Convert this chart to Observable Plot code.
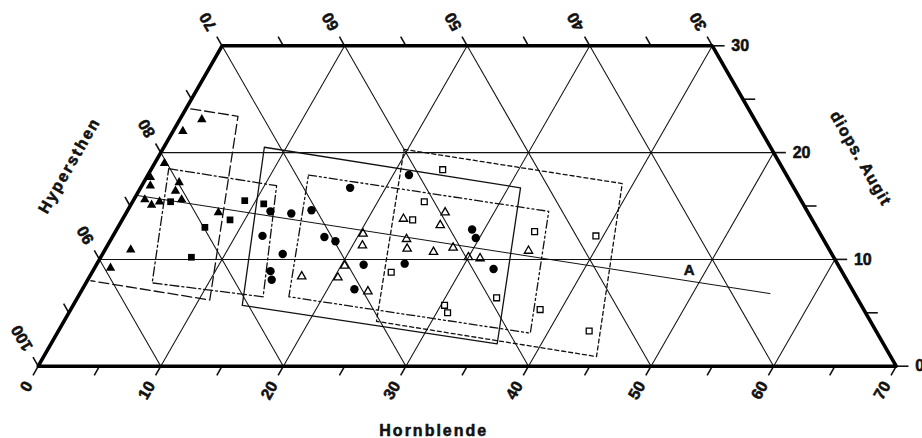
<!DOCTYPE html>
<html><head><meta charset="utf-8">
<script src="https://cdn.jsdelivr.net/npm/d3@7"></script>
<script src="https://cdn.jsdelivr.net/npm/@observablehq/plot@0.6"></script>
<style>html,body{margin:0;padding:0;background:#fff;} #chart svg{display:block}</style>
</head><body><div id="chart"></div>
<script>
// ---- axis ticks (ternary: Hornblende, Hypersthen, diops. Augit, in %) ----
const hornblendeTicks = [0,10,20,30,40,50,60,70];
const hornblendeMinor = [5,15,25,35,45,55,65];
const hypersthenTicks = [100,90,80,70,60,50,40,30];
const hypersthenMinor = [95,85,75,65,55,45,35];
const augitTicks = [0,10,20,30];
const augitMinor = [5,15,25];
const hyMin = 30, aMax = 30;

// ---- data points: [Hornblende, Augit] ----
const filledTriangles = [[1.8,23.1],[0.8,22.0],[0.8,19.0],[0.3,17.7],[0.7,16.9],[2.9,17.2],[3.0,16.4],[0.9,15.6],[1.7,15.1],[2.2,15.4],[3.9,15.6],[7.5,14.4],[2.1,10.9],[1.3,9.2]];
const filledSquares = [[3.1,15.4],[9.1,15.5],[10.8,15.2],[8.8,13.7],[7.1,13.0],[7.4,10.2]];
const filledCircles = [[11.7,14.5],[13.5,14.3],[15.0,14.6],[17.1,16.7],[12.2,12.2],[14.7,10.5],[17.3,12.1],[18.4,11.7],[14.5,8.9],[15.0,8.1],[21.8,9.5],[22.2,7.2],[21.3,17.9],[25.1,9.6],[29.0,12.8],[29.7,12.0],[32.6,9.1]];
const openTriangles = [[20.3,12.4],[20.8,11.3],[20.3,9.4],[17.3,8.4],[20.3,8.3],[23.4,7.0],[22.9,13.8],[24.1,11.9],[24.6,11.0],[26.0,14.4],[26.2,13.2],[26.9,10.7],[28.3,11.1],[30.0,10.2],[31.0,10.1],[34.6,10.8]];
const openSquares = [[23.8,18.4],[23.8,15.4],[23.7,13.7],[24.4,8.8],[34.2,12.6],[39.4,12.2],[34.2,6.4],[30.3,5.7],[30.9,5.0],[38.3,5.3],[43.3,3.3]];

// ---- field outlines: [Hornblende, Augit] corners ----
const dashedField = [[0.4,24.1],[4.6,23.4],[10.9,6.2],[0.3,8.0]];
const dashDotField = [[1.4,18.5],[11.0,16.9],[15.1,6.5],[5.4,7.8],[1.4,18.5]];
const solidField = [[8.2,20.5],[31.0,16.7],[36.4,2.1],[13.8,5.7],[8.2,20.5]];
const dashDotDotField = [[13.1,17.9],[34.4,14.5],[38.6,3.1],[17.2,6.5],[13.1,17.9]];
const shortDashField = [[19.7,20.3],[39.1,17.1],[45.1,0.9],[25.5,4.2],[19.7,20.3]];
const trendLineA = [[0,16.0],[56.3,6.8]];
const trendLabel = [{text:"A", h:48.6, a:9.0}];

// ---- geometry helpers ----
const tx = (h,a) => h + a/2;
const hMax = 100 - hyMin;
const outline = [[0,0],[hMax,0],[hMax-aMax,aMax],[0,aMax],[0,0],[hMax,0]];

const grid = [];
augitTicks.filter(a => a>0 && a<aMax).forEach(a => grid.push({h1:0,a1:a,h2:hMax-a,a2:a}));
hornblendeTicks.filter(h => h>0 && h<hMax).forEach(h => grid.push({h1:h,a1:0,h2:h,a2:Math.min(aMax,hMax-h)}));
hypersthenTicks.filter(hy => hy>hyMin && hy<100).forEach(hy => {
  const s = 100-hy;
  if (s <= aMax) grid.push({h1:s,a1:0,h2:0,a2:s});
  else grid.push({h1:s,a1:0,h2:s-aMax,a2:aMax});
});
const hyBase = hy => hy >= 100-aMax ? [0,100-hy] : [hMax-hy, aMax];

const L = 0.85;
const ticks = [];
[...hornblendeTicks, ...hornblendeMinor].forEach(h => ticks.push({x1:h,y1:0,x2:h-L/2,y2:-L}));
[...hypersthenTicks, ...hypersthenMinor].forEach(hy => { const [h,a]=hyBase(hy); const X=tx(h,a); ticks.push({x1:X,y1:a,x2:X-L/2,y2:a+L}); });
[...augitTicks, ...augitMinor].forEach(a => { const X=hMax-a/2; ticks.push({x1:X,y1:a,x2:X+1.0,y2:a}); });

const k = 1.55;
const bottomLabels = hornblendeTicks.map(h => ({t:String(h), x:h-k/2, y:-k}));
const hyLabels = hypersthenTicks.map(hy => { const [h,a]=hyBase(hy); return {t:String(hy), x:tx(h,a)-k/2, y:a+k}; });
const rightLabels = augitTicks.map(a => ({t:String(a), x:hMax-a/2+1.55, y:a}));

const P = () => ({x: d => tx(d[0],d[1]), y: d => d[1]});
const font = {fontFamily:"Liberation Sans, Arial, sans-serif", fontWeight:"bold", fontSize:16, fill:"#111", stroke:"#111", strokeWidth:0.55};

const fields = [
  [dashedField, "10,4"],
  [dashDotField, "9,3,2,3"],
  [solidField, null],
  [dashDotDotField, "8,3,2,3,2,3"],
  [shortDashField, "4,3"]
];

const chart = Plot.plot({
  width: 922, height: 438,
  marginLeft: 37.7, marginRight: 922-895.7, marginTop: 45.3, marginBottom: 438-365.7,
  x: {domain:[0,70], axis:null},
  y: {domain:[0,30], axis:null},
  style: {background:"white", fontFamily:"Liberation Sans, Arial, sans-serif", overflow:"visible"},
  marks: [
    Plot.link(grid, {x1:d=>tx(d.h1,d.a1), y1:"a1", x2:d=>tx(d.h2,d.a2), y2:"a2", stroke:"#111", strokeWidth:1.05}),
    ...fields.map(([pts,dash]) => Plot.line(pts, {...P(), stroke:"#111", strokeWidth:1.3, strokeDasharray: dash || undefined})),
    Plot.line(trendLineA, {...P(), stroke:"#111", strokeWidth:1}),
    Plot.text(trendLabel, {x:d=>tx(d.h,d.a), y:"a", text:"text", ...font, fontSize:15}),
    Plot.link(ticks, {x1:"x1", y1:"y1", x2:"x2", y2:"y2", stroke:"#111", strokeWidth:1.6}),
    Plot.line(outline, {...P(), stroke:"#000", strokeWidth:3.6, strokeLinejoin:"miter"}),
    Plot.dot(filledTriangles, {...P(), symbol:"triangle", r:3.5, fill:"#000"}),
    Plot.dot(filledSquares, {...P(), symbol:"square", r:3.8, fill:"#000"}),
    Plot.dot(filledCircles, {...P(), symbol:"circle", r:4.2, fill:"#000"}),
    Plot.dot(openTriangles, {...P(), symbol:"triangle", r:3.1, fill:"none", stroke:"#000", strokeWidth:1.3}),
    Plot.dot(openSquares, {...P(), symbol:"square", r:3.3, fill:"none", stroke:"#000", strokeWidth:1.3}),
    Plot.text(bottomLabels, {x:"x", y:"y", text:"t", rotate:-60, textAnchor:"end", ...font}),
    Plot.text(hyLabels, {x:"x", y:"y", text:"t", rotate:-120, textAnchor:"start", ...font}),
    Plot.text(rightLabels, {x:"x", y:"y", text:"t", textAnchor:"start", ...font}),
    Plot.text(["Hornblende"], {x:32.27, y:-6.07, text:d=>d, ...font}),
    Plot.text(["Hypersthen"], {x:2.55, y:18.8, text:d=>d, rotate:-60, ...font}),
    Plot.text(["diops. Augit"], {x:67.09, y:19.45, text:d=>d, rotate:60, ...font})
  ]
});
document.getElementById("chart").appendChild(chart);
chart.querySelectorAll("text").forEach(t => {
  const s = t.textContent;
  if (s === "Hornblende" || s === "Hypersthen") t.setAttribute("letter-spacing", "2");
  if (s === "diops. Augit") t.setAttribute("letter-spacing", "1.2");
});
</script></body></html>
